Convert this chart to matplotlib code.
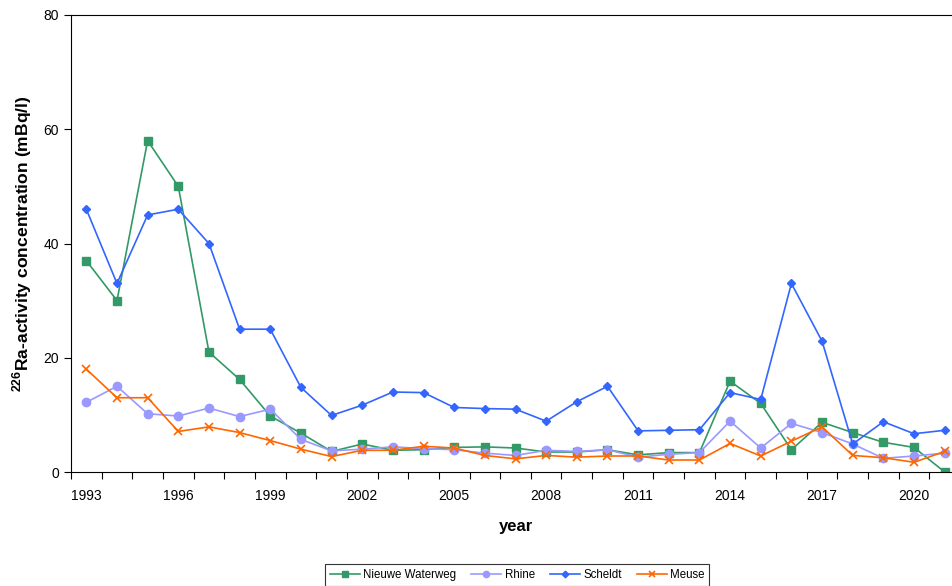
import matplotlib
matplotlib.use("Agg")
from matplotlib import pyplot as plt
from matplotlib.ticker import FixedLocator
import numpy as np

plt.rcParams['font.family'] = ['Liberation Sans', 'DejaVu Sans']
plt.rcParams['mathtext.fontset'] = 'custom'
plt.rcParams['mathtext.rm'] = 'Liberation Sans'
plt.rcParams['mathtext.bf'] = 'Liberation Sans:bold'

years = list(range(1993, 2022))

nieuwe_waterweg = [37, 30, 58, 50, 21, 16.2, 9.8, 6.8, 3.6, 4.9, 3.8, 3.9, 4.3, 4.4, 4.2,
                   3.5, 3.5, 3.9, 3.0, 3.4, 3.4, 15.9, 12.0, 3.9, 8.7, 6.9, 5.2, 4.3, 0.0]
rhine = [12.2, 15, 10.2, 9.8, 11.2, 9.7, 11, 5.7, 3.7, 4.0, 4.4, 4.1, 3.9, 3.3, 2.9,
         3.8, 3.6, 3.9, 2.6, 3.1, 3.4, 8.9, 4.2, 8.5, 6.9, 4.9, 2.4, 2.8, 3.3]
scheldt = [46, 33, 45, 46, 40, 25, 25, 14.8, 9.9, 11.7, 14.0, 13.9, 11.3, 11.1, 11.0,
           8.9, 12.3, 15.0, 7.2, 7.3, 7.4, 13.9, 12.7, 33, 22.9, 4.9, 8.8, 6.7, 7.3]
meuse = [18, 13, 13, 7.1, 7.9, 6.9, 5.5, 4.0, 2.7, 3.8, 3.8, 4.5, 4.2, 2.9, 2.3,
         2.9, 2.6, 2.8, 2.8, 2.1, 2.1, 5.0, 2.8, 5.4, 7.9, 2.9, 2.5, 1.7, 3.6]

x = np.arange(len(years))

fig = plt.figure(figsize=(9.52, 5.86), dpi=100)
ax = fig.add_axes([71 / 952, 114 / 586, 889 / 952, 457 / 586])

ax.plot(x, nieuwe_waterweg, color='#339966', marker='s', markersize=6, lw=1.2, label='Nieuwe Waterweg')
ax.plot(x, rhine, color='#9999ff', marker='o', markersize=6, lw=1.2, label='Rhine')
ax.plot(x, scheldt, color='#3366ff', marker='D', markersize=4.5, lw=1.2, label='Scheldt')
ax.plot(x, meuse, color='#ff6600', marker='x', markersize=6, mew=1.2, lw=1.2, label='Meuse')

ax.set_xlim(-0.5, len(years) - 0.5)
ax.set_ylim(0, 80)
ax.set_yticks([0, 20, 40, 60, 80])

ax.set_xticks(x[::3])
ax.set_xticklabels([str(y) for y in years[::3]])
ax.xaxis.set_minor_locator(FixedLocator(np.arange(-0.5, len(years), 1)))
ax.tick_params(axis='x', which='major', length=0, pad=12, labelsize=10)
ax.tick_params(axis='x', which='minor', length=5, width=0.8, direction='out')
ax.tick_params(axis='y', which='major', length=5, width=0.8, direction='out', labelsize=10)

for s in ax.spines.values():
    s.set_linewidth(0.8)

ax.set_xlabel('year', fontsize=12, fontweight='bold', labelpad=12)
ax.set_ylabel(r'$^{\mathbf{226}}$Ra-activity concentration (mBq/l)', fontsize=12.6,
              fontweight='bold', labelpad=7)

leg = fig.legend(loc='center', bbox_to_anchor=(517 / 952, 11 / 586), ncol=4, fontsize=8.3,
                 frameon=True, fancybox=False, edgecolor='black', handlelength=2.6,
                 markerscale=0.75, columnspacing=1.3, handletextpad=0.3, borderpad=0.4)
leg.get_frame().set_linewidth(0.8)

fig.savefig('out.png', dpi=100)
